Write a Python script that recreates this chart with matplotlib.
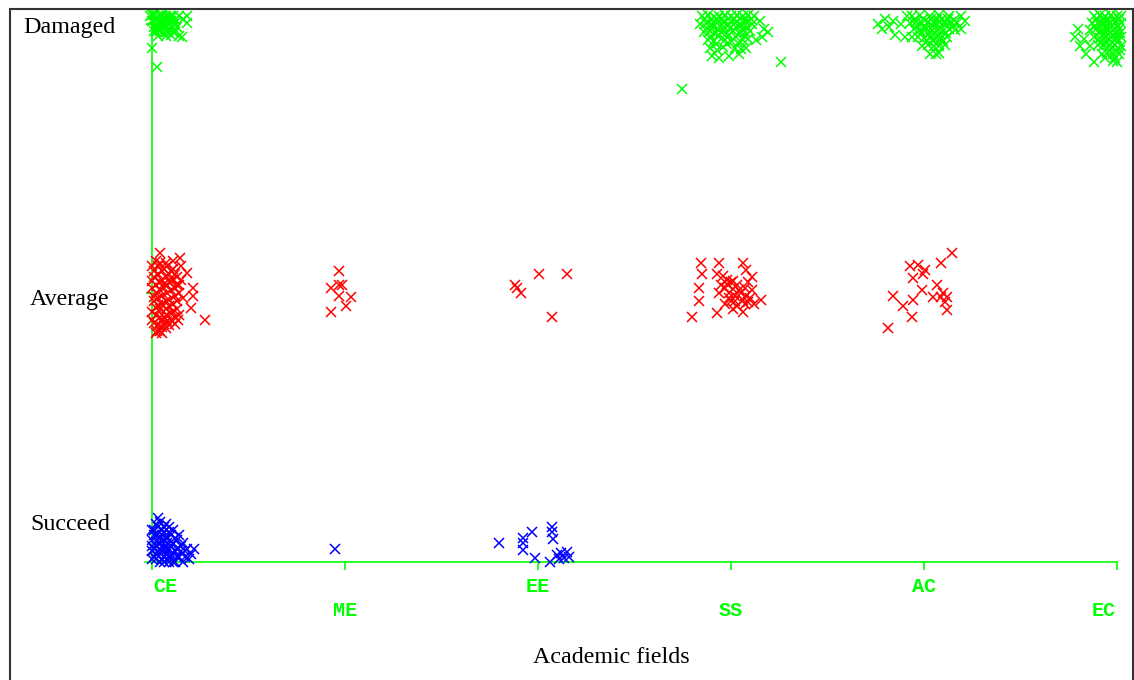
import matplotlib
matplotlib.use("Agg")
import matplotlib.pyplot as plt
from matplotlib.patches import Rectangle

fields = ["CE", "ME", "EE", "SS", "AC", "EC"]
classes = ["Succeed", "Average", "Damaged"]
class_colors = ["#0000ff", "#ff0000", "#00ff00"]

# jittered points: (offset from field index, offset from class index)
ce_succeed = [
    (0.00, 0.01), (0.02, 0.03), (0.04, 0.00), (0.06, 0.02), (0.08, 0.01), (0.10, 0.03),
    (0.12, 0.00), (0.14, 0.02), (0.01, 0.05), (0.03, 0.07), (0.05, 0.04), (0.07, 0.06),
    (0.09, 0.05), (0.11, 0.07), (0.13, 0.05), (0.15, 0.04), (0.00, 0.08), (0.02, 0.10),
    (0.04, 0.09), (0.06, 0.11), (0.08, 0.09), (0.10, 0.10), (0.12, 0.09), (0.01, 0.12),
    (0.03, 0.13), (0.05, 0.12), (0.07, 0.14), (0.09, 0.13), (0.04, 0.15), (0.03, 0.165),
    (0.06, 0.08), (0.08, 0.05), (0.16, 0.07), (0.18, 0.05), (0.20, 0.03), (0.22, 0.05),
    (0.19, 0.01), (0.17, 0.02), (0.14, 0.10), (0.11, 0.12), (0.16, 0.00), (0.01, 0.02),
    (0.05, 0.01), (0.09, 0.00), (0.13, 0.08), (0.02, 0.06), (0.06, 0.05), (0.10, 0.06),
    (0.00, 0.04), (0.07, 0.03),
    (0.00, 0.06), (0.02, 0.01), (0.04, 0.05), (0.06, 0.00), (0.08, 0.07), (0.10, 0.02),
    (0.12, 0.04), (0.01, 0.10), (0.03, 0.04), (0.05, 0.10), (0.07, 0.09), (0.09, 0.11),
    (0.11, 0.00), (0.13, 0.02), (0.15, 0.06), (0.17, 0.04), (0.02, 0.14), (0.06, 0.13),
    (0.00, 0.12), (0.04, 0.07),
]
me_succeed = [(-0.05, 0.05)]
ee_succeed = [
    (-0.20, 0.07), (-0.08, 0.09), (-0.08, 0.07), (-0.08, 0.045), (-0.03, 0.11),
    (0.07, 0.13), (0.07, 0.11), (0.08, 0.085), (-0.015, 0.015), (0.06, 0.00),
    (0.10, 0.026), (0.12, 0.033), (0.15, 0.037), (0.16, 0.02), (0.135, 0.015),
    (0.11, 0.012),
]

ce_average = [
    (0.00, 0.10), (0.02, 0.12), (0.04, 0.11), (0.06, 0.09), (0.08, 0.10), (0.10, 0.08),
    (0.12, 0.07), (0.01, 0.06), (0.03, 0.07), (0.05, 0.05), (0.07, 0.06), (0.09, 0.04),
    (0.11, 0.05), (0.13, 0.03), (0.00, 0.02), (0.02, 0.03), (0.04, 0.01), (0.06, 0.02),
    (0.08, 0.00), (0.10, 0.01), (0.12, -0.01), (0.14, 0.00), (0.01, -0.03), (0.03, -0.02),
    (0.05, -0.04), (0.07, -0.03), (0.09, -0.05), (0.11, -0.04), (0.13, -0.06), (0.00, -0.07),
    (0.02, -0.08), (0.04, -0.06), (0.06, -0.09), (0.08, -0.08), (0.10, -0.10), (0.12, -0.09),
    (0.01, -0.11), (0.03, -0.12), (0.05, -0.10), (0.07, -0.13), (0.09, -0.12), (0.04, -0.14),
    (0.02, -0.15), (0.15, 0.05), (0.16, -0.02), (0.14, -0.08), (0.15, 0.10), (0.145, 0.13),
    (0.04, 0.15), (0.21, 0.02), (0.21, -0.01), (0.275, -0.10), (0.20, -0.055), (0.05, -0.15),
    (0.18, 0.075), (0.135, -0.10), (0.025, -0.14), (0.11, 0.12),
    (0.01, 0.08), (0.03, 0.10), (0.05, 0.08), (0.07, 0.11), (0.09, 0.07), (0.11, 0.09),
    (0.13, 0.06), (0.00, 0.045), (0.02, 0.00), (0.04, 0.04), (0.06, 0.035), (0.08, 0.03),
    (0.10, 0.045), (0.12, 0.02), (0.01, -0.015), (0.03, -0.045), (0.05, -0.01), (0.07, -0.06),
    (0.09, -0.025), (0.11, -0.07), (0.13, -0.03), (0.00, -0.10), (0.02, -0.055), (0.04, -0.09),
    (0.06, -0.115), (0.08, -0.105), (0.10, -0.075), (0.12, -0.115), (0.05, -0.125), (0.14, 0.03),
]
me_average = [
    (-0.03, 0.08), (-0.07, 0.02), (-0.03, 0.03), (-0.015, 0.03), (-0.03, -0.01),
    (0.03, -0.015), (0.005, -0.05), (-0.07, -0.07),
]
ee_average = [
    (-0.11, 0.02), (-0.09, 0.00), (0.005, 0.07), (0.15, 0.07), (0.07, -0.09), (-0.12, 0.03),
]
ss_average = [
    (-0.155, 0.11), (-0.06, 0.11), (0.06, 0.11), (0.08, 0.085), (-0.15, 0.07), (-0.165, 0.02),
    (-0.165, -0.03), (-0.20, -0.09), (-0.07, -0.075), (0.155, -0.025), (0.06, -0.07),
    (-0.07, 0.07), (-0.04, 0.065), (-0.02, 0.05), (0.00, 0.04), (-0.05, 0.03), (-0.03, 0.02),
    (0.01, 0.015), (0.03, 0.03), (-0.01, 0.00), (0.02, -0.01), (0.05, 0.00), (0.08, -0.01),
    (0.10, -0.02), (0.11, 0.01), (0.12, -0.04), (0.00, -0.03), (-0.03, -0.04), (0.03, -0.05),
    (0.07, -0.04), (0.09, 0.04), (0.11, 0.06), (0.01, -0.06), (-0.06, 0.00),
    (-0.02, 0.035), (0.01, 0.045), (0.04, 0.01), (0.06, -0.025), (0.09, -0.035),
    (0.02, -0.03), (-0.01, -0.02), (0.07, 0.02),
]
ac_average = [
    (0.145, 0.15), (0.09, 0.11), (-0.07, 0.10), (0.005, 0.085), (-0.005, 0.07), (-0.055, 0.055),
    (0.065, 0.03), (-0.01, 0.01), (-0.16, -0.01), (0.045, -0.015), (0.12, -0.015),
    (0.11, -0.035), (-0.055, -0.025), (-0.11, -0.05), (0.12, -0.065), (-0.06, -0.09),
    (-0.185, -0.13), (0.09, -0.015), (-0.03, 0.105), (0.10, 0.00),
]

ce_damaged = [
    (-0.01, 0.03), (0.01, 0.035), (0.03, 0.03), (0.05, 0.035), (0.07, 0.03), (0.09, 0.025),
    (0.11, 0.03), (0.00, 0.01), (0.02, 0.015), (0.04, 0.01), (0.06, 0.015), (0.08, 0.005),
    (0.10, 0.01), (0.12, 0.005), (0.01, -0.01), (0.03, -0.005), (0.05, -0.015), (0.07, -0.01),
    (0.09, -0.02), (0.11, -0.01), (0.02, -0.03), (0.04, -0.025), (0.06, -0.035), (0.08, -0.03),
    (0.10, -0.04), (0.12, -0.03), (0.14, -0.045), (0.16, 0.02), (0.18, 0.004), (0.155, -0.05),
    (0.18, 0.03), (0.00, -0.09), (0.025, -0.16), (0.14, 0.03),
    (0.00, 0.035), (0.02, 0.00), (0.04, 0.035), (0.06, 0.00), (0.08, 0.02), (0.10, 0.03),
    (0.12, 0.015), (0.01, -0.025), (0.03, -0.02), (0.05, 0.00), (0.07, -0.025), (0.09, 0.00),
    (0.11, -0.03), (0.13, -0.01), (0.03, -0.045), (0.07, -0.045),
]
ss_damaged = [
    (-0.15, 0.03), (-0.12, 0.035), (-0.09, 0.025), (-0.06, 0.03), (-0.03, 0.035), (0.00, 0.028),
    (0.03, 0.032), (0.06, 0.03), (0.09, 0.035), (0.12, 0.028),
    (-0.16, 0.00), (-0.13, 0.005), (-0.10, -0.005), (-0.07, 0.002), (-0.04, 0.006),
    (-0.01, -0.003), (0.02, 0.004), (0.05, -0.002), (0.08, 0.006), (0.11, 0.00), (0.15, 0.01),
    (-0.14, -0.03), (-0.11, -0.025), (-0.08, -0.035), (-0.05, -0.028), (-0.02, -0.032),
    (0.01, -0.027), (0.04, -0.034), (0.07, -0.03), (0.10, -0.025), (0.17, -0.02),
    (-0.12, -0.06), (-0.09, -0.065), (-0.03, -0.058), (0.00, -0.062), (0.06, -0.06),
    (0.09, -0.055), (0.13, -0.06), (0.19, -0.03), (0.16, -0.05),
    (-0.11, -0.09), (-0.07, -0.095), (-0.04, -0.085), (0.02, -0.09), (0.05, -0.092), (0.08, -0.088),
    (-0.10, -0.12), (-0.06, -0.125), (-0.01, -0.118), (0.04, -0.11),
    (0.26, -0.14), (-0.255, -0.24),
    (-0.135, 0.02), (-0.105, 0.015), (-0.075, 0.02), (-0.045, 0.018), (-0.015, 0.02),
    (0.015, 0.017), (0.045, 0.02), (0.075, 0.015), (0.105, 0.018), (-0.125, -0.015),
    (-0.095, -0.012), (-0.065, -0.018), (-0.035, -0.013), (-0.005, -0.016), (0.025, -0.012),
    (0.055, -0.017), (0.085, -0.013), (-0.105, -0.045), (-0.065, -0.045), (-0.015, -0.045),
    (0.025, -0.048), (0.075, -0.045), (-0.08, -0.075), (-0.02, -0.075), (0.035, -0.07),
]
ac_damaged = [
    (-0.24, 0.00), (-0.22, -0.02), (-0.20, 0.02), (-0.18, -0.01), (-0.16, 0.01), (-0.15, -0.04),
    (-0.12, 0.00), (-0.10, -0.05), (-0.09, 0.03),
    (-0.06, 0.03), (-0.02, 0.032), (0.03, 0.028), (0.08, 0.033), (0.13, 0.03), (0.19, 0.03),
    (-0.07, 0.005), (-0.04, 0.008), (-0.01, 0.002), (0.02, 0.006), (0.05, 0.004), (0.08, 0.008),
    (0.11, 0.003), (0.14, 0.007), (0.17, 0.004), (0.21, 0.01),
    (-0.05, -0.02), (-0.02, -0.024), (0.01, -0.018), (0.04, -0.022), (0.07, -0.02),
    (0.10, -0.025), (0.13, -0.019), (0.16, -0.022), (0.19, -0.02),
    (-0.06, -0.05), (-0.03, -0.048), (0.00, -0.053), (0.03, -0.05), (0.06, -0.047),
    (0.09, -0.052), (0.12, -0.05),
    (-0.01, -0.08), (0.02, -0.078), (0.05, -0.083), (0.08, -0.08), (0.11, -0.077),
    (0.03, -0.11), (0.06, -0.112), (0.08, -0.108),
    (-0.045, 0.018), (-0.005, 0.02), (0.035, 0.017), (0.065, 0.02), (0.095, 0.018),
    (0.125, 0.02), (0.155, 0.016), (-0.035, -0.008), (0.005, -0.01), (0.045, -0.006),
    (0.085, -0.01), (0.115, -0.005), (0.15, -0.008), (-0.015, -0.035), (0.025, -0.037),
    (0.055, -0.034), (0.085, -0.036), (0.115, -0.033), (0.015, -0.065), (0.045, -0.065),
    (0.07, -0.066), (0.10, -0.064),
]
ec_damaged = [
    (-0.12, 0.03), (-0.09, 0.032), (-0.06, 0.028), (-0.03, 0.033), (0.00, 0.03), (0.02, 0.03),
    (-0.13, 0.005), (-0.10, 0.002), (-0.07, 0.007), (-0.04, 0.004), (-0.01, 0.006), (0.02, 0.003),
    (-0.20, -0.02), (-0.14, -0.022), (-0.11, -0.018), (-0.08, -0.021), (-0.05, -0.02),
    (-0.02, -0.024), (0.01, -0.019),
    (-0.22, -0.05), (-0.17, -0.055), (-0.12, -0.048), (-0.09, -0.052), (-0.06, -0.05),
    (-0.03, -0.047), (0.00, -0.053), (0.02, -0.05),
    (-0.19, -0.08), (-0.14, -0.083), (-0.10, -0.078), (-0.07, -0.082), (-0.04, -0.08),
    (-0.01, -0.077), (0.02, -0.081),
    (-0.16, -0.11), (-0.08, -0.112), (-0.05, -0.108), (-0.02, -0.11), (0.01, -0.113),
    (-0.12, -0.14), (-0.02, -0.138), (0.00, -0.142),
    (-0.105, 0.018), (-0.075, 0.02), (-0.045, 0.016), (-0.015, 0.019), (0.01, 0.017),
    (-0.115, -0.008), (-0.085, -0.006), (-0.055, -0.01), (-0.025, -0.007), (0.005, -0.009),
    (-0.095, -0.035), (-0.065, -0.036), (-0.035, -0.034), (-0.005, -0.037), (0.015, -0.034),
    (-0.085, -0.066), (-0.055, -0.064), (-0.025, -0.067), (0.005, -0.064), (-0.035, -0.095),
    (-0.005, -0.095), (0.015, -0.097), (-0.06, -0.125), (-0.01, -0.125),
]

clusters = [
    (0, 0, ce_succeed), (1, 0, me_succeed), (2, 0, ee_succeed),
    (0, 1, ce_average), (1, 1, me_average), (2, 1, ee_average),
    (3, 1, ss_average), (4, 1, ac_average),
    (0, 2, ce_damaged), (3, 2, ss_damaged), (4, 2, ac_damaged), (5, 2, ec_damaged),
]

W, H = 1134, 680
fig = plt.figure(figsize=(W / 100, H / 100), dpi=100)
fig.patch.set_facecolor("white")

# axes: field 0 at px 152, field 5 at px 1117; class 0 at px 562, class 2 at px 24
x_lo = -7 / 193.0
y_hi = 2 + 14 / 269.0
left = (152 + x_lo * 193) / W
ax = fig.add_axes([left, (H - 562) / H, (1117 - 152 - x_lo * 193) / W, 552 / H])
ax.set_xlim(x_lo, 5)
ax.set_ylim(0, y_hi)
ax.set_facecolor("none")

for fi, ci, pts in clusters:
    xs = [fi + p[0] for p in pts]
    ys = [ci + p[1] for p in pts]
    ax.plot(xs, ys, linestyle="none", marker="x", markersize=6.5,
            markeredgewidth=1.1, color=class_colors[ci], clip_on=False, zorder=3)

green = "#00ff00"
for s in ["top", "right"]:
    ax.spines[s].set_visible(False)
ax.spines["left"].set_position(("data", 0))
ax.spines["left"].set_color(green)
ax.spines["bottom"].set_color(green)
ax.spines["left"].set_linewidth(1.2)
ax.spines["bottom"].set_linewidth(1.2)

ax.set_xticks(range(len(fields)))
ax.set_xticklabels([])
ax.set_yticks([1, 2])
ax.set_yticklabels([])
ax.tick_params(axis="x", colors=green, length=6, width=1.2, direction="out")
ax.tick_params(axis="y", colors=green, length=4, width=1.2, direction="out")

for i, name in enumerate(fields):
    off = -17.6 if i % 2 == 0 else -34.9
    ha = "center"
    dx = 0
    if i == 0:
        ha, dx = "left", 1
    elif i == len(fields) - 1:
        ha, dx = "right", -1
    ax.annotate(name, xy=(i, 0), xycoords="data", xytext=(dx, off),
                textcoords="offset points", ha=ha, va="center",
                color=green, fontsize=14.5, fontweight="bold", family="Liberation Mono")

serif = "Liberation Serif"
fig.text(23 / W, 1 - 33 / H, classes[2], fontsize=17.3, family=serif, va="baseline")
fig.text(30 / W, 1 - 305 / H, classes[1], fontsize=17.3, family=serif, va="baseline")
fig.text(30 / W, 1 - 530 / H, classes[0], fontsize=17.3, family=serif, va="baseline")
fig.text(611.5 / W, 1 - 663 / H, "Academic fields", fontsize=17.3, family=serif,
         va="baseline", ha="center")

fig.patches.append(Rectangle((9.5 / W, -0.01), (1132.5 - 9.5) / W, 1 - 9.5 / H + 0.01,
                             transform=fig.transFigure, fill=False,
                             edgecolor="#333333", linewidth=1.5))

fig.savefig("out.png", dpi=100)
